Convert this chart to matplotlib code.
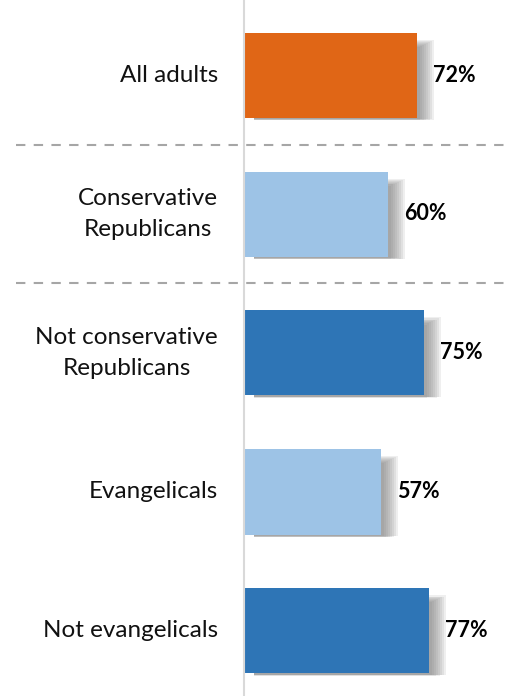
import matplotlib
matplotlib.use("Agg")
from matplotlib import pyplot as plt

# data
categories = ["All adults", "Conservative\nRepublicans", "Not conservative\nRepublicans",
              "Evangelicals", "Not evangelicals"]
values = [72, 60, 75, 57, 77]
colors = ["#E06616", "#9DC3E6", "#2E75B6", "#9DC3E6", "#2E75B6"]
value_labels = ["72%", "60%", "75%", "57%", "77%"]
separators = [0.5, 1.5]

PX_X = 1 / 2.4   # one pixel in x data units (percent)
PX_Y = 1 / 139   # one pixel in y data units (row)


def main():
    fig = plt.figure(figsize=(5.11, 6.96), dpi=100)
    ax = fig.add_axes([0, 0, 1, 1])
    ax.set_xlim(-244 * PX_X, (511 - 244) * PX_X)
    ax.set_ylim((696 - 75) * PX_Y, -75 * PX_Y)
    ax.axis("off")

    ypos = list(range(len(values)))
    h = 85 * PX_Y

    # soft drop shadow, mostly on the right side of each bar
    for y, v in zip(ypos, values):
        for k in range(8):
            x0 = 10 * PX_X
            w = v + (3 + 2.0 * k) * PX_X - 10 * PX_X
            y0 = y - h / 2 + (14 - k) * PX_Y
            hh = h - 14 * PX_Y + (2 + 1.0 * k) * PX_Y
            ax.barh(y0 + hh / 2, w, height=hh, left=x0, color="#6f6f6f",
                    alpha=0.11, linewidth=0, zorder=1)

    ax.barh(ypos, values, height=h, color=colors, linewidth=0, zorder=3)

    ax.axvline(0, color="#D9D9D9", linewidth=1.5, zorder=4)
    for s in separators:
        ax.plot([-95, 125], [s, s], color="#A6A6A6", linewidth=1.5,
                linestyle=(0, (4.5, 4)), zorder=2)

    for y, v, lab, cat in zip(ypos, values, value_labels, categories):
        ax.text(v + 16 * PX_X, y, lab, ha="left", va="center", fontsize=15.5,
                fontweight="bold", family="Lato", color="black")
        ax.text(-26 * PX_X, y, cat, ha="right", va="center", fontsize=17.5,
                family="Lato", color="#111111", linespacing=1.55,
                multialignment="center")

    fig.savefig("out.png", dpi=100)


if __name__ == "__main__":
    main()
